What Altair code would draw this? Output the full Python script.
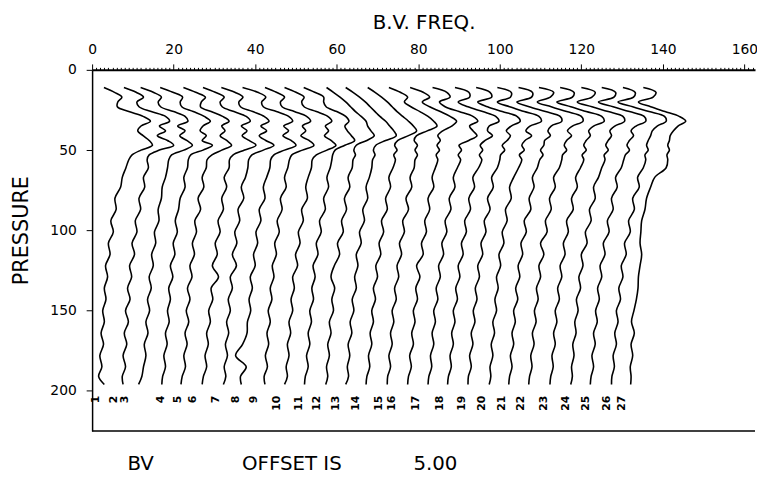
import altair as alt
import pandas as pd

OFFSET = 5.0

TOP_P = [11, 14, 17, 20, 23, 26, 29, 32, 35, 38, 41, 44, 47, 50, 53, 56]
LOW_P = [61, 67, 73, 80, 87, 94, 101, 108, 115, 122, 129, 136, 143, 150, 157,
         164, 171, 178, 185, 191, 196]

TRACE_TOP = [
    [2.9, 5.5, 7.3, 6.3, 6.2, 9.0, 12.5, 14.3, 12.0, 11.2, 12.5, 14.0, 14.8, 12.0, 9.8, 9.0],
    [2.8, 5.8, 7.6, 6.0, 6.5, 9.5, 13.0, 14.0, 11.5, 13.0, 11.0, 13.5, 15.0, 11.5, 9.0, 8.5],
    [1.9, 5.0, 7.0, 6.2, 6.8, 10.0, 12.8, 13.5, 11.0, 12.8, 11.5, 13.2, 14.6, 12.5, 9.5, 8.8],
    [1.7, 4.8, 7.2, 6.6, 7.0, 9.8, 12.5, 14.0, 12.2, 11.5, 13.0, 12.0, 14.5, 12.2, 9.2, 8.6],
    [2.4, 5.4, 7.8, 6.8, 6.6, 9.2, 12.0, 13.6, 11.8, 12.6, 11.4, 13.0, 14.2, 11.8, 9.4, 8.2],
    [2.2, 5.2, 7.4, 6.4, 6.9, 9.8, 12.8, 13.8, 11.6, 13.0, 11.8, 13.5, 15.2, 12.4, 9.6, 8.7],
    [1.7, 5.0, 7.0, 6.0, 6.4, 9.4, 12.2, 13.4, 11.4, 12.8, 11.0, 12.6, 14.6, 12.0, 9.2, 8.4],
    [1.9, 5.6, 7.6, 6.6, 7.0, 10.2, 13.2, 14.2, 12.0, 13.2, 11.8, 13.8, 15.0, 12.2, 9.6, 8.8],
    [2.4, 5.2, 7.2, 6.2, 6.6, 9.6, 12.6, 13.6, 11.6, 12.4, 11.2, 13.2, 14.4, 11.6, 9.0, 8.4],
    [2.2, 5.0, 7.0, 6.4, 7.0, 10.0, 12.8, 13.8, 12.2, 13.0, 12.0, 13.6, 14.8, 12.6, 10.0, 9.0],
    [1.9, 4.6, 6.8, 6.8, 7.4, 10.0, 12.2, 13.0, 12.0, 12.6, 13.6, 14.4, 12.0, 9.6, 9.0, 8.8],
    [2.5, 4.2, 5.8, 7.2, 8.4, 9.6, 11.0, 12.2, 12.6, 13.4, 14.2, 12.4, 9.8, 9.2, 9.6, 9.0],
    [2.2, 4.0, 5.6, 7.0, 8.2, 9.4, 10.6, 12.0, 13.0, 14.0, 14.6, 12.0, 9.6, 9.0, 9.4, 8.8],
    [2.6, 4.4, 6.0, 7.4, 8.6, 9.8, 11.2, 12.6, 13.8, 14.6, 12.6, 10.0, 9.2, 9.8, 9.0, 9.4],
    [2.8, 5.6, 7.4, 6.6, 8.2, 10.4, 12.4, 13.8, 14.6, 12.2, 9.6, 9.0, 9.8, 9.2, 9.8, 9.2],
    [3.0, 6.2, 7.8, 6.0, 7.8, 10.4, 12.8, 14.4, 13.2, 11.0, 9.8, 10.4, 9.6, 10.2, 9.4, 9.8],
    [3.5, 7.0, 7.8, 5.2, 6.6, 10.0, 13.4, 14.6, 12.6, 13.4, 14.4, 12.4, 10.0, 10.6, 9.8, 10.4],
    [4.0, 7.4, 7.6, 4.8, 7.2, 10.8, 14.0, 14.8, 12.4, 12.0, 13.2, 11.4, 10.2, 10.8, 10.0, 10.6],
    [4.2, 7.6, 8.0, 4.6, 7.0, 10.6, 14.2, 15.0, 12.8, 11.6, 12.6, 11.8, 10.6, 11.2, 10.2, 10.0],
    [4.4, 7.8, 7.6, 4.4, 7.4, 11.0, 14.6, 15.2, 12.4, 11.4, 12.8, 11.2, 10.4, 11.0, 9.8, 10.4],
    [4.6, 8.0, 7.8, 4.2, 7.2, 11.2, 14.8, 15.2, 12.6, 11.8, 12.4, 11.0, 10.8, 10.0, 10.6, 9.8],
    [4.6, 8.2, 7.4, 4.2, 7.6, 11.4, 15.0, 15.4, 12.8, 11.6, 12.6, 11.4, 10.8, 11.4, 10.4, 10.2],
    [4.8, 8.2, 7.8, 4.0, 7.4, 11.2, 15.0, 15.6, 13.0, 11.8, 12.2, 11.2, 10.6, 11.2, 10.2, 10.6],
    [5.0, 8.4, 7.6, 4.0, 7.6, 11.6, 15.2, 15.6, 13.2, 12.0, 12.4, 11.6, 11.0, 11.6, 10.6, 10.8],
    [5.0, 8.4, 8.0, 4.2, 7.8, 11.8, 15.4, 15.8, 13.4, 12.2, 12.8, 11.8, 11.2, 11.8, 10.8, 10.4],
    [5.2, 8.2, 7.8, 4.0, 7.6, 11.6, 15.4, 15.8, 13.6, 12.4, 12.0, 11.4, 11.0, 11.4, 10.6, 10.8],
    [5.2, 8.3, 7.6, 4.0, 7.0, 10.5, 14.0, 15.6, 13.7, 12.6, 11.8, 11.6, 11.2, 11.6, 11.0, 11.2],
]

TRACE_LOW = [
    [8.3, 7.4, 7.0, 5.6, 5.9, 4.6, 5.2, 4.0, 4.4, 3.3, 3.8, 3.0, 3.4, 2.6, 3.0, 2.2, 2.8, 1.9, 2.4, 1.6, 3.0],
    [8.8, 7.6, 7.9, 6.5, 6.9, 5.6, 6.0, 4.8, 5.4, 4.2, 4.7, 3.7, 4.3, 3.2, 3.9, 2.9, 3.5, 2.6, 3.2, 2.4, 2.6],
    [8.5, 8.0, 7.2, 7.0, 6.2, 6.4, 5.3, 5.6, 4.6, 5.0, 4.0, 4.5, 3.6, 4.1, 3.2, 3.7, 2.8, 3.2, 2.6, 2.2, 1.4],
    [8.4, 7.5, 7.8, 6.6, 6.2, 5.4, 5.9, 4.9, 5.3, 4.2, 4.8, 3.8, 4.2, 3.5, 3.9, 3.0, 3.4, 2.6, 3.0, 2.3, 2.1],
    [8.0, 7.0, 7.4, 6.0, 6.6, 5.2, 5.6, 4.6, 5.1, 4.0, 4.5, 3.4, 4.0, 3.1, 3.7, 2.8, 3.3, 2.5, 2.9, 2.1, 1.8],
    [8.6, 7.4, 8.0, 6.8, 7.2, 5.9, 6.4, 5.2, 5.7, 4.5, 6.0, 4.2, 4.6, 3.6, 4.0, 3.1, 3.5, 2.7, 3.1, 2.3, 2.0],
    [8.2, 7.6, 6.6, 7.2, 5.8, 6.2, 5.0, 5.5, 4.4, 5.4, 3.9, 4.4, 3.4, 3.9, 3.0, 3.5, 2.7, 3.2, 2.4, 2.8, 2.2],
    [8.6, 7.8, 7.0, 7.4, 6.0, 6.4, 5.2, 5.6, 4.6, 5.0, 3.8, 4.3, 3.5, 3.9, 3.1, 3.0, 1.9, 0.2, 2.8, 1.4, 1.6],
    [8.0, 7.2, 7.6, 6.2, 6.6, 5.4, 5.9, 4.8, 5.2, 4.2, 4.6, 3.7, 4.1, 3.2, 3.7, 2.9, 3.3, 2.5, 3.0, 2.2, 2.4],
    [8.8, 8.0, 7.4, 7.8, 6.4, 6.8, 5.6, 6.0, 4.9, 5.4, 4.2, 4.6, 3.8, 4.2, 3.3, 3.7, 2.9, 3.3, 2.6, 2.9, 2.2],
    [8.4, 7.6, 8.0, 6.8, 7.2, 5.8, 6.2, 5.0, 5.4, 4.2, 4.7, 3.9, 4.3, 3.4, 3.8, 3.0, 3.4, 2.6, 3.0, 2.3, 2.1],
    [8.8, 7.8, 8.2, 6.9, 7.4, 6.2, 6.6, 5.2, 5.7, 4.4, 3.6, 4.5, 3.8, 4.2, 3.2, 3.6, 2.8, 3.2, 2.5, 2.8, 2.3],
    [8.6, 8.0, 7.2, 7.6, 6.4, 6.8, 5.6, 6.0, 4.8, 5.2, 4.4, 4.8, 3.8, 4.2, 3.3, 3.7, 2.8, 3.2, 2.6, 2.9, 2.2],
    [8.8, 7.8, 8.2, 7.0, 7.4, 6.0, 6.5, 5.4, 5.8, 4.6, 5.0, 4.0, 4.5, 3.6, 4.0, 3.2, 3.6, 2.8, 3.1, 2.4, 2.2],
    [9.0, 8.0, 8.4, 7.0, 7.6, 6.2, 6.6, 5.4, 5.9, 4.8, 5.2, 4.2, 4.6, 3.6, 4.0, 3.2, 3.6, 2.8, 3.2, 2.5, 2.4],
    [9.2, 8.4, 8.8, 7.4, 7.8, 6.6, 7.0, 5.8, 6.2, 4.6, 5.4, 4.4, 4.8, 3.8, 4.2, 3.4, 3.8, 2.9, 3.3, 2.6, 2.4],
    [9.6, 8.6, 9.0, 7.6, 8.0, 6.6, 7.0, 5.8, 6.2, 5.0, 5.4, 4.4, 4.8, 3.8, 4.2, 3.4, 3.8, 3.0, 3.3, 2.6, 2.4],
    [9.8, 8.4, 8.8, 7.4, 7.8, 6.4, 6.8, 5.6, 6.0, 4.8, 5.2, 4.2, 4.6, 3.6, 4.0, 3.2, 3.6, 2.8, 3.1, 2.4, 2.2],
    [9.4, 8.0, 8.4, 7.0, 7.6, 6.2, 6.6, 5.4, 5.8, 4.6, 5.0, 4.0, 4.4, 3.5, 3.9, 3.0, 3.4, 2.6, 3.0, 2.3, 2.2],
    [9.6, 8.4, 7.4, 7.8, 6.4, 6.8, 5.6, 6.0, 4.8, 5.2, 4.2, 4.6, 3.8, 4.2, 3.3, 3.7, 2.9, 3.3, 2.6, 2.8, 2.4],
    [9.2, 8.0, 8.4, 7.2, 7.6, 6.0, 6.5, 5.2, 5.6, 4.5, 4.9, 3.9, 4.4, 3.4, 3.8, 3.0, 3.4, 2.6, 3.0, 2.4, 2.2],
    [9.6, 8.2, 8.6, 7.2, 7.6, 6.2, 6.6, 5.0, 5.8, 4.6, 5.0, 4.0, 4.4, 3.5, 3.9, 3.0, 3.4, 2.6, 2.9, 2.3, 2.1],
    [9.8, 8.6, 9.0, 7.6, 8.0, 6.4, 6.8, 5.6, 6.0, 4.8, 5.2, 4.2, 4.6, 3.6, 4.0, 3.2, 3.6, 2.8, 3.1, 2.5, 2.3],
    [10.0, 9.2, 8.0, 8.4, 7.0, 7.4, 6.0, 6.4, 5.0, 5.4, 4.4, 4.8, 3.8, 4.2, 3.4, 3.7, 2.9, 3.2, 2.6, 2.8, 2.4],
    [9.8, 8.4, 8.8, 7.4, 7.8, 6.4, 6.8, 5.4, 5.8, 4.6, 5.0, 4.0, 4.4, 3.5, 3.9, 3.0, 3.4, 2.6, 3.0, 2.4, 2.2],
    [10.2, 8.8, 9.2, 7.6, 8.0, 6.6, 7.0, 5.6, 6.0, 4.8, 5.2, 4.2, 4.6, 3.6, 4.0, 3.2, 3.6, 2.8, 3.1, 2.5, 2.4],
    [10.8, 8.0, 7.0, 6.0, 5.6, 4.8, 4.6, 4.4, 4.8, 4.4, 4.0, 3.9, 3.5, 2.9, 2.3, 3.0, 2.2, 2.6, 2.0, 2.2, 2.1],
]

LABEL_TEXT = [str(i) for i in range(1, 28)]
LABEL_X = [1.0, 5.3, 8.0, 17.0, 21.1, 24.8, 30.3, 35.2, 39.8, 45.4, 50.7, 55.1, 59.9,
           64.8, 70.4, 73.5, 79.4, 85.4, 90.8, 95.6, 100.5, 105.3, 110.9, 116.3,
           121.1, 126.2, 129.9]
LABEL_P = 203

X_TICKS = list(range(0, 163))
Y_TICKS = [0, 50, 100, 150, 200]

FOOT_TEXT = ["BV", "OFFSET IS", "5.00"]
FOOT_X = [11.9, 49.0, 84.2]

FONT = "DejaVu Sans"

rows = []
for k, (top, low) in enumerate(zip(TRACE_TOP, TRACE_LOW)):
    assert len(top) == len(TOP_P), ("top", k, len(top))
    assert len(low) == len(LOW_P), ("low", k, len(low))
    for p, v in zip(TOP_P + LOW_P, top + low):
        rows.append({"trace": k + 1, "p": p, "bv": v + OFFSET * k})
df = pd.DataFrame(rows)

xscale = alt.Scale(domain=[0, 162.6], nice=False, zero=False)
yscale = alt.Scale(domain=[0, 225], reverse=True, nice=False, zero=False)

x_axis = alt.Axis(
    orient="top", title="B.V. FREQ.", values=X_TICKS,
    labelExpr="datum.value % 20 === 0 ? datum.label : ''",
    labelOverlap=False, labelFlush=False,
    tickSize={"condition": {"test": "datum.value % 20 === 0", "value": 6}, "value": 2.5},
    tickColor="black", tickWidth=1, domainColor="black", domainWidth=2,
    labelFont=FONT, labelFontSize=14, labelColor="black", labelPadding=8,
    titleFont=FONT, titleFontSize=20, titleFontWeight="normal", titleColor="black",
    titleY=-38, grid=False,
)
y_axis = alt.Axis(
    title="PRESSURE", values=Y_TICKS, tickSize=6, tickColor="black",
    domainColor="black", domainWidth=1.5,
    labelFont=FONT, labelFontSize=14, labelColor="black", labelPadding=10,
    titleFont=FONT, titleFontSize=21, titleFontWeight="normal", titleColor="black",
    titleX=-71, titleY=162, titleAngle=270, titleAlign="center", titleBaseline="middle",
    grid=False,
)

X_ENC = alt.X("bv:Q", scale=xscale, axis=x_axis)
Y_ENC = alt.Y("p:Q", scale=yscale, axis=y_axis)

lines = alt.Chart(df).mark_line(
    color="black", strokeWidth=1.6, interpolate="catmull-rom"
).encode(
    x=X_ENC,
    y=Y_ENC,
    detail="trace:N",
    order="p:Q",
)

lab_df = pd.DataFrame({"txt": LABEL_TEXT, "bv": LABEL_X, "p": [LABEL_P] * len(LABEL_X)})
labels = alt.Chart(lab_df).mark_text(
    angle=270, align="right", baseline="middle", font=FONT, fontSize=11,
    fontWeight="bold", color="black"
).encode(
    x=X_ENC,
    y=Y_ENC,
    text="txt:N",
)

frame = alt.Chart(pd.DataFrame({"p": [225]})).mark_rule(
    color="black", strokeWidth=1.5
).encode(
    y=Y_ENC,
    x=alt.value(0), x2=alt.value(670),
)

foot_df = pd.DataFrame({"txt": FOOT_TEXT, "bv": FOOT_X})
foot = alt.Chart(foot_df).mark_text(
    align="center", baseline="middle", font=FONT, fontSize=20, color="black"
).encode(
    x=X_ENC,
    y=alt.value(398),
    text="txt:N",
)

chart = alt.layer(lines, labels, frame, foot).properties(
    width=670, height=365,
    padding={"left": 85, "top": 60, "right": 2, "bottom": 45},
    autosize=alt.AutoSizeParams(type="none"),
).configure_view(stroke=None)

chart.save("out.html", embed_options={"renderer": "svg", "actions": False})
